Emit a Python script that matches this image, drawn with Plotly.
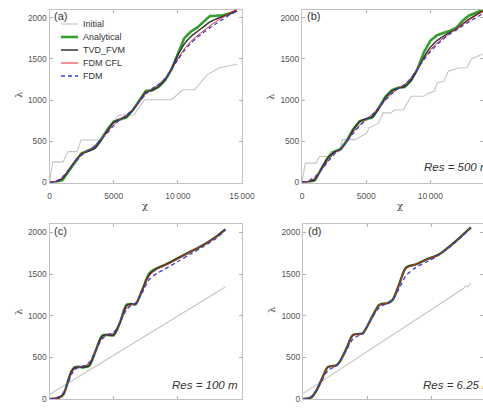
import plotly.graph_objects as go

W, H = 483, 408

series_names = ["Initial", "Analytical", "TVD_FVM", "FDM CFL", "FDM"]
panel_labels = ["(a)", "(b)", "(c)", "(d)"]
res_labels = [None, "Res = 500 m", "Res = 100 m", "Res = 6.25 m"]
x_tickvals = [0, 5000, 10000, 15000]
x_ticktext = ["0", "5000", "10\u2009000", "15\u2009000"]
y_tickvals = [0, 500, 1000, 1500, 2000]
y_ticktext = ["0", "500", "1000", "1500", "2000"]

# ---------------- panel (a) ----------------
a_init_x = [0, 250, 1050, 1450, 2150, 2450, 3900, 4300, 4900, 5400, 6600, 7400, 9500, 10400, 11300, 12300, 13200, 14600]
a_init_y = [0, 250, 250, 375, 375, 515, 515, 600, 720, 820, 820, 1005, 1005, 1125, 1125, 1310, 1390, 1435]
a_x = [0, 500, 1000, 1500, 2000, 2500, 3000, 3500, 4000, 4500, 5000, 5500, 6000, 6500, 7000, 7500, 8000, 8500, 9000, 9500, 10000, 10500, 11000, 11500, 12000, 12500, 13000, 13500, 14000, 14600]
a_ana = [0, 5, 30, 140, 260, 355, 385, 420, 520, 640, 740, 765, 790, 880, 990, 1110, 1120, 1160, 1240, 1370, 1560, 1750, 1830, 1880, 1950, 2020, 2025, 2030, 2050, 2090]
a_tvd = [0, 10, 45, 150, 265, 345, 380, 410, 505, 625, 730, 770, 800, 880, 985, 1095, 1120, 1165, 1250, 1380, 1545, 1680, 1770, 1830, 1890, 1950, 1985, 2015, 2045, 2085]
a_cfl = [0, 15, 60, 160, 260, 340, 390, 440, 520, 610, 700, 770, 820, 890, 980, 1080, 1140, 1190, 1265, 1370, 1500, 1620, 1710, 1780, 1840, 1900, 1955, 2005, 2055, 2100]
a_fdm = [0, 15, 65, 160, 250, 330, 390, 440, 520, 600, 690, 760, 820, 890, 980, 1070, 1140, 1190, 1260, 1370, 1490, 1600, 1690, 1760, 1820, 1880, 1930, 1980, 2030, 2080]

# ---------------- panel (b) ----------------
b_init_x = [0, 250, 1100, 1350, 2000, 2250, 2900, 3150, 4150, 4650, 5050, 5200, 5950, 6300, 6900, 7200, 7900, 8500, 9500, 9900, 10300, 10550, 11050, 11400, 12200, 12850, 13200, 13800, 14600]
b_init_y = [0, 235, 235, 315, 315, 375, 375, 520, 520, 560, 600, 660, 720, 845, 845, 880, 880, 1047, 1047, 1085, 1108, 1210, 1230, 1350, 1390, 1392, 1500, 1540, 1600]
b_x = a_x
b_ana = [0, 5, 25, 160, 300, 375, 405, 510, 650, 745, 770, 790, 910, 1040, 1120, 1150, 1160, 1240, 1380, 1580, 1720, 1785, 1815, 1840, 1875, 1960, 2025, 2055, 2090, 2110]
b_tvd = [0, 8, 35, 165, 295, 370, 400, 500, 640, 740, 775, 800, 900, 1030, 1110, 1145, 1165, 1240, 1370, 1520, 1640, 1720, 1775, 1820, 1860, 1920, 1980, 2030, 2075, 2110]
b_cfl = [0, 12, 55, 150, 260, 350, 410, 500, 610, 700, 770, 830, 910, 1000, 1080, 1140, 1190, 1270, 1380, 1500, 1610, 1690, 1750, 1810, 1870, 1920, 1970, 2020, 2065, 2110]
b_fdm = [0, 20, 70, 150, 250, 340, 410, 500, 600, 690, 760, 830, 910, 1000, 1080, 1140, 1190, 1270, 1380, 1490, 1590, 1670, 1740, 1800, 1850, 1900, 1950, 1995, 2040, 2085]

# ---------------- panel (c) ----------------
c_init_x = [0, 13700]
c_init_y = [55, 1345]
c_x = [0, 700, 1100, 1450, 1700, 1950, 2300, 2700, 3100, 3600, 4100, 4500, 5000, 5500, 6000, 6350, 6700, 7200, 7800, 8400, 9000, 10000, 11000, 12000, 13000, 13700]
c_ana = [0, 12, 60, 220, 330, 380, 385, 380, 400, 580, 760, 770, 765, 920, 1130, 1140, 1135, 1300, 1510, 1570, 1610, 1690, 1770, 1850, 1950, 2035]
c_tvd = [0, 12, 60, 215, 325, 375, 385, 382, 405, 580, 755, 768, 770, 920, 1120, 1140, 1138, 1300, 1500, 1570, 1610, 1690, 1770, 1850, 1950, 2035]
c_cfl = [0, 15, 70, 200, 310, 360, 385, 395, 430, 580, 730, 770, 790, 930, 1090, 1130, 1150, 1290, 1480, 1560, 1600, 1680, 1770, 1850, 1945, 2030]
c_fdm = [0, 25, 80, 190, 290, 350, 380, 400, 440, 580, 720, 770, 800, 920, 1070, 1120, 1150, 1270, 1440, 1510, 1560, 1650, 1740, 1830, 1930, 2030]

# ---------------- panel (d) ----------------
d_init_x = [0, 12500, 12650, 12800, 13080]
d_init_y = [65, 1325, 1355, 1345, 1390]
d_x = [0, 650, 1040, 1500, 1940, 2590, 2850, 3400, 3890, 4660, 4920, 5400, 5960, 6600, 6990, 7500, 8030, 8810, 9700, 10620, 11800, 13080]
d_ana = [0, 20, 100, 250, 384, 404, 444, 610, 768, 788, 848, 990, 1131, 1151, 1192, 1380, 1576, 1616, 1680, 1737, 1880, 2060]
d_tvd = [0, 20, 100, 250, 384, 404, 444, 610, 768, 788, 848, 990, 1131, 1151, 1192, 1380, 1576, 1616, 1680, 1737, 1880, 2060]
d_cfl = [0, 22, 100, 248, 380, 404, 446, 608, 764, 790, 850, 990, 1128, 1152, 1194, 1378, 1570, 1614, 1680, 1737, 1880, 2060]
d_fdm = [0, 30, 100, 230, 340, 400, 450, 590, 720, 790, 850, 980, 1100, 1150, 1190, 1330, 1480, 1580, 1650, 1730, 1870, 2050]

panels = [
    (a_init_x, a_init_y, a_x, [a_ana, a_tvd, a_cfl, a_fdm]),
    (b_init_x, b_init_y, b_x, [b_ana, b_tvd, b_cfl, b_fdm]),
    (c_init_x, c_init_y, c_x, [c_ana, c_tvd, c_cfl, c_fdm]),
    (d_init_x, d_init_y, d_x, [d_ana, d_tvd, d_cfl, d_fdm]),
]

styles = [
    dict(color="#c4c4c4", width=1.1),
    dict(color="#33a02c", width=2.6),
    dict(color="#333333", width=1.5),
    dict(color="#e3262b", width=1.0),
    dict(color="#3b3bd6", width=1.3, dash="4px,3px"),
]
# analytical is piecewise-linear in the coarse panels, numerical solutions are smooth
shape_rules = [
    ["linear", "linear", "spline", "spline", "spline"],
    ["linear", "linear", "spline", "spline", "spline"],
    ["linear", "spline", "spline", "spline", "spline"],
    ["linear", "spline", "spline", "spline", "spline"],
]

# pixel boxes (left, right, top, bottom) and x-range max
boxes = [
    (49.5, 242.0, 9.5, 182.5, 15000),
    (302.0, 483.0, 9.5, 182.5, 15000 * (483 - 302.0) / 192.5),
    (49.5, 242.0, 224.0, 399.0, 15000),
    (303.0, 483.0, 224.0, 399.0, 15000 * (483 - 303.0) / 192.5),
]

fig = go.Figure()
FONT = "Liberation Sans, Arial, sans-serif"
axis_common = dict(showline=True, linecolor="#c2c2c2", linewidth=1, mirror="ticks",
                   ticks="inside", ticklen=3, tickcolor="#b0b0b0", showgrid=False,
                   zeroline=False, automargin=False,
                   tickfont=dict(family=FONT, size=8.5, color="#555555"))

layout = dict(width=W, height=H, margin=dict(l=0, r=0, t=0, b=0, autoexpand=False),
              paper_bgcolor="white", plot_bgcolor="white", showlegend=False)

for i, (ix, iy, xs, ys) in enumerate(panels):
    k = "" if i == 0 else str(i + 1)
    l, r, t, b, xmax = boxes[i]
    fig.add_trace(go.Scatter(x=ix, y=iy, mode="lines", line=dict(styles[0], shape=shape_rules[i][0]),
                             xaxis="x" + k, yaxis="y" + k, name=series_names[0], hoverinfo="skip"))
    for j, yv in enumerate(ys):
        fig.add_trace(go.Scatter(x=xs, y=yv, mode="lines",
                                 line=dict(styles[j + 1], shape=shape_rules[i][j + 1], smoothing=0.8),
                                 xaxis="x" + k, yaxis="y" + k, name=series_names[j + 1], hoverinfo="skip"))
    layout["xaxis" + k] = dict(axis_common, domain=[l / W, r / W], range=[0, xmax],
                                tickvals=x_tickvals, ticktext=x_ticktext, anchor="y" + k,
                                ticklabelstandoff=5)
    layout["yaxis" + k] = dict(axis_common, domain=[1 - b / H, 1 - t / H], range=[0, 2100],
                                tickvals=y_tickvals, ticktext=y_ticktext, anchor="x" + k)

fig.update_layout(**layout)

ann = []
# panel labels
label_pos = [(52, 16), (305, 16), (52, 231), (306, 231)]
for lab, (px, py) in zip(panel_labels, label_pos):
    ann.append(dict(text=lab, x=px / W, y=1 - py / H, xref="paper", yref="paper", xanchor="left",
                    yanchor="middle", showarrow=False, font=dict(family=FONT, size=11, color="#333333")))
# Res labels (left edges)
res_pos = [None, (422, 167), (170, 385), (421, 385)]
for lab, pos in zip(res_labels, res_pos):
    if lab is None:
        continue
    ann.append(dict(text="<i>" + lab + "</i>", x=pos[0] / W, y=1 - pos[1] / H, xref="paper", yref="paper",
                    xanchor="left", yanchor="middle", showarrow=False,
                    font=dict(family=FONT, size=11.5, color="#333333")))
# axis titles
for (px, py) in [(18, 95), (270, 97), (18, 312), (271, 310)]:
    ann.append(dict(text="λ", x=px / W, y=1 - py / H, xref="paper", yref="paper", textangle=-90,
                    xanchor="center", yanchor="middle", showarrow=False,
                    font=dict(family="DejaVu Serif, serif", size=10, color="#444444")))
for (px, py) in [(145, 205), (400, 205)]:
    ann.append(dict(text="χ", x=px / W, y=1 - py / H, xref="paper", yref="paper",
                    xanchor="center", yanchor="middle", showarrow=False,
                    font=dict(family="DejaVu Serif, serif", size=10, color="#444444")))

# manual legend in panel (a)
shapes = []
leg_y = [24, 37, 50, 63, 76]
for name, st, py in zip(series_names, styles, leg_y):
    shapes.append(dict(type="line", xref="paper", yref="paper", x0=61 / W, x1=78 / W,
                       y0=1 - py / H, y1=1 - py / H,
                       line=dict(color=st["color"], width=st["width"], dash=st.get("dash", "solid"))))
    ann.append(dict(text=name, x=81 / W, y=1 - py / H, xref="paper", yref="paper", xanchor="left",
                    yanchor="middle", showarrow=False, font=dict(family=FONT, size=9, color="#333333")))

fig.update_layout(annotations=ann, shapes=shapes)
fig.write_html("out.html")
